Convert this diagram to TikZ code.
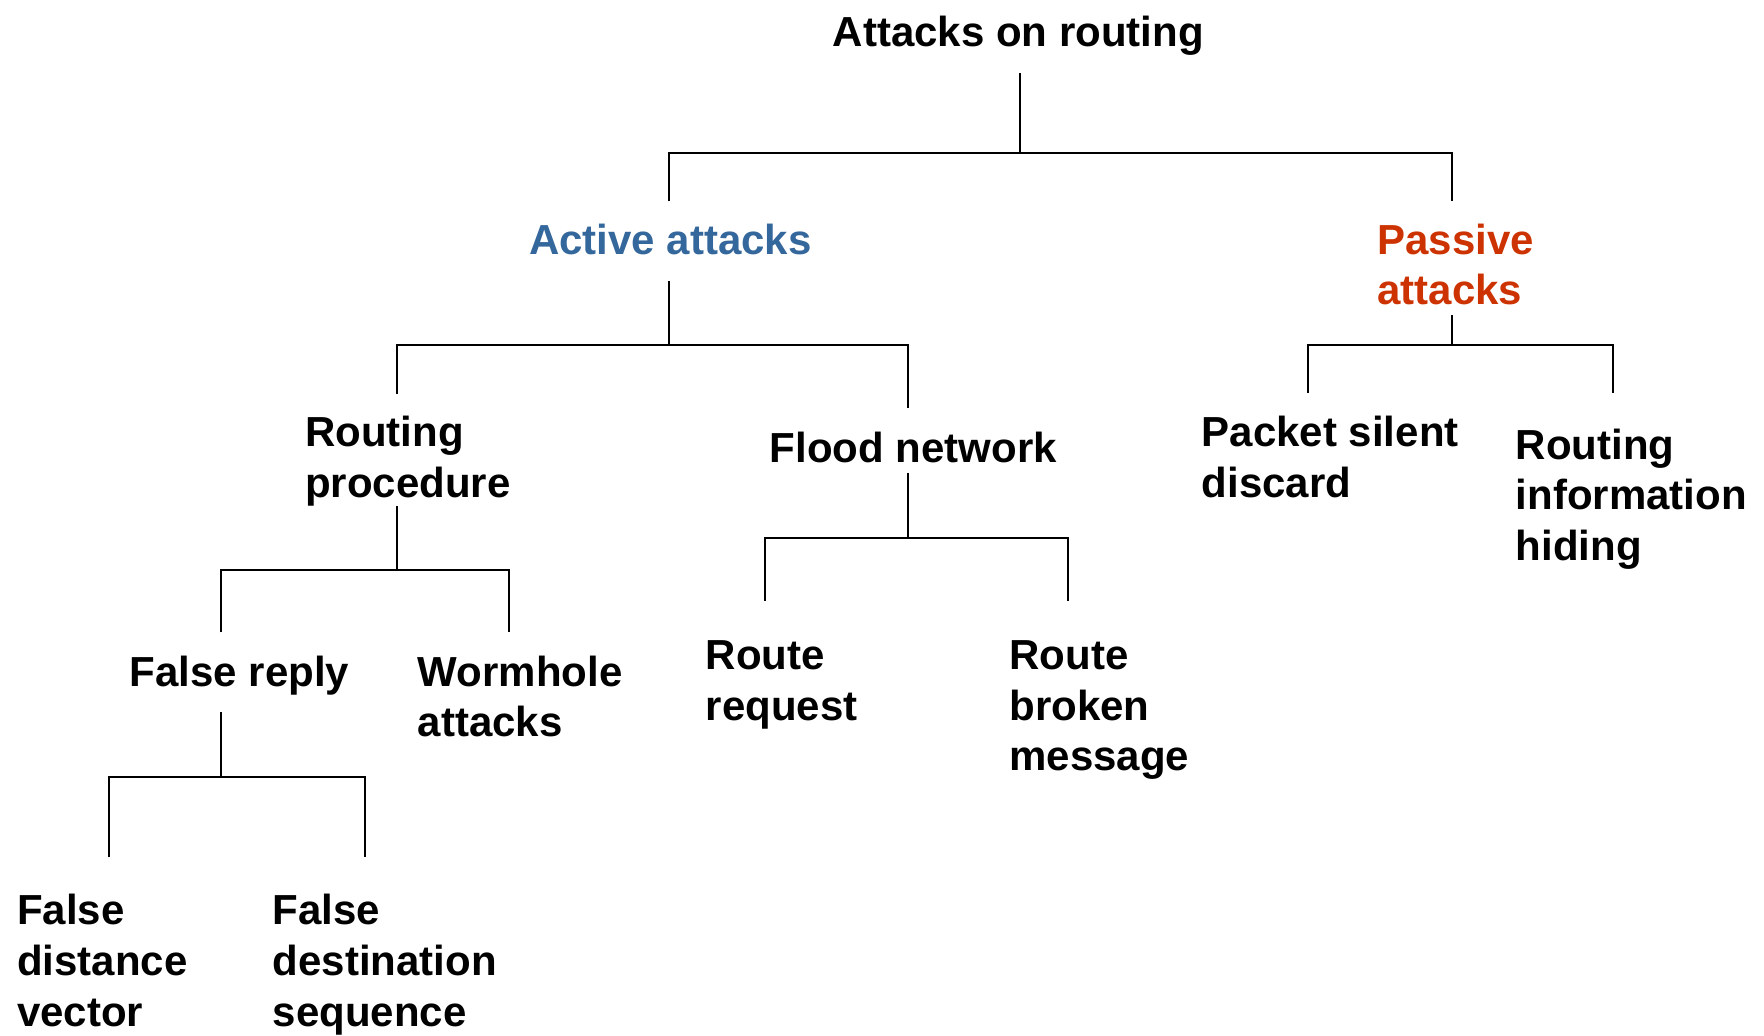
\documentclass[tikz,border=0pt]{standalone}
\usepackage{fontspec}
\setmainfont{Liberation Sans}
\definecolor{activeblue}{RGB}{52,103,155}
\definecolor{passivered}{RGB}{204,51,0}
\begin{document}
\begin{tikzpicture}[x=0.5625pt,y=-0.5625pt,
  lbl/.style={anchor=base west,inner sep=0pt,align=left,
    font=\fontsize{21}{25.3}\selectfont\bfseries},
  conn/.style={line width=1pt}]
\useasboundingbox (0,0) rectangle (1568,920);
% nodes (anchor = baseline of the last line)
\node[lbl] (root) at (740,41) {Attacks on routing};
\node[lbl,text=activeblue] (active) at (470,226) {Active attacks};
\node[lbl,text=passivered] (passive) at (1224,271) {Passive\\attacks};
\node[lbl] (rproc) at (271,442) {Routing\\procedure};
\node[lbl] (flood) at (684,411) {Flood network};
\node[lbl] (pdisc) at (1068,442) {Packet silent\\discard};
\node[lbl] (rhide) at (1347,498) {Routing\\information\\hiding};
\node[lbl] (frep) at (115,610) {False reply};
\node[lbl] (worm) at (371,655) {Wormhole\\attacks};
\node[lbl] (rreq) at (627,640) {Route\\request};
\node[lbl] (rbrk) at (897,685) {Route\\broken\\message};
\node[lbl] (fdv) at (15,912) {False\\distance\\vector};
\node[lbl] (fds) at (242,912) {False\\destination\\sequence};
% connector end points
\coordinate (rootOut) at (907,65);
\coordinate (rootJ) at (907,136);
\coordinate (activeIn) at (595,179);
\coordinate (passiveIn) at (1291,179);
\coordinate (activeOut) at (595,250);
\coordinate (activeJ) at (595,307);
\coordinate (rprocIn) at (353,350);
\coordinate (floodIn) at (807,363);
\coordinate (passiveOut) at (1291,280);
\coordinate (passiveJ) at (1291,307);
\coordinate (pdiscIn) at (1163,349);
\coordinate (rhideIn) at (1434,349);
\coordinate (rprocOut) at (353,450);
\coordinate (rprocJ) at (353,507);
\coordinate (frepIn) at (196,562);
\coordinate (wormIn) at (452,562);
\coordinate (floodOut) at (807,420);
\coordinate (floodJ) at (807,478);
\coordinate (rreqIn) at (680,534);
\coordinate (rbrkIn) at (949,534);
\coordinate (frepOut) at (196,633);
\coordinate (frepJ) at (196,691);
\coordinate (fdvIn) at (97,762);
\coordinate (fdsIn) at (324,762);
% connectors
\draw[conn] (rootOut) -- (rootJ);
\draw[conn] (activeIn) |- (rootJ) -| (passiveIn);
\draw[conn] (activeOut) -- (activeJ);
\draw[conn] (rprocIn) |- (activeJ) -| (floodIn);
\draw[conn] (passiveOut) -- (passiveJ);
\draw[conn] (pdiscIn) |- (passiveJ) -| (rhideIn);
\draw[conn] (rprocOut) -- (rprocJ);
\draw[conn] (frepIn) |- (rprocJ) -| (wormIn);
\draw[conn] (floodOut) -- (floodJ);
\draw[conn] (rreqIn) |- (floodJ) -| (rbrkIn);
\draw[conn] (frepOut) -- (frepJ);
\draw[conn] (fdvIn) |- (frepJ) -| (fdsIn);
\end{tikzpicture}
\end{document}
